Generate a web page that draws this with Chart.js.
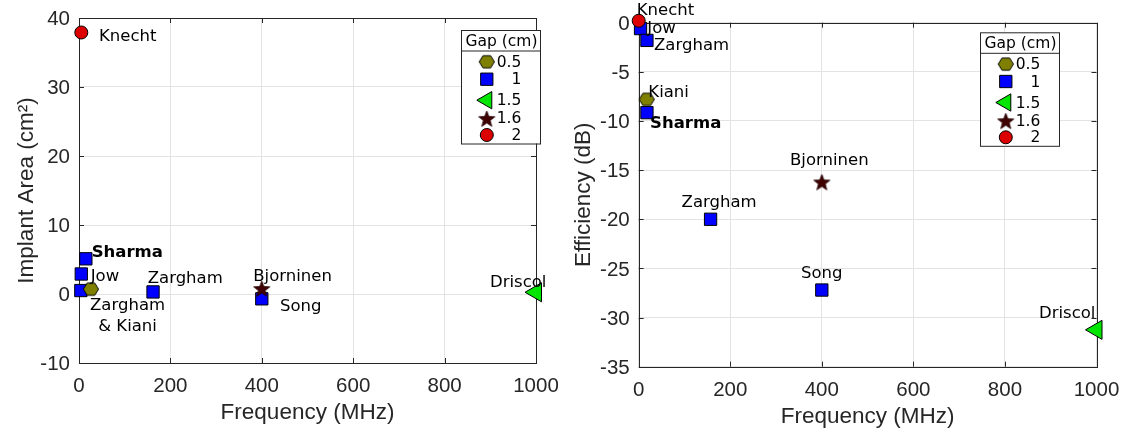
<!DOCTYPE html>
<html>
<head>
<meta charset="utf-8">
<script src="https://cdn.jsdelivr.net/npm/chart.js@4.4.1/dist/chart.umd.min.js"></script>
<style>
  html, body { margin: 0; padding: 0; background: #fff; overflow: hidden; }
  #wrap { position: relative; width: 1124px; height: 434px; }
  canvas { position: absolute; top: 0; }
  #area { left: 0; }
  #eff  { left: 560px; }
</style>
</head>
<body>
<div id="wrap">
  <canvas id="area" width="560" height="434"></canvas>
  <canvas id="eff" width="564" height="434"></canvas>
</div>
<script>
// ── DATA ──────────────────────────────────────────────
const gapLabels = ['0.5', '1', '1.5', '1.6', '2'];

// left panel: implant area (cm^2) vs frequency (MHz)
const areaNames = ['Knecht', 'Sharma', 'Jow', '', 'Zargham\n& Kiani', 'Zargham', 'Bjorninen', 'Song', 'Driscol'];
const areaFreq  = [5, 15, 5, 4, 26, 162, 400, 400, 1000];
const areaVals  = [37.9, 5.1, 2.9, 0.5, 0.7, 0.3, 0.8, -0.7, 0.25];
const areaGap   = ['2', '1', '1', '1', '0.5', '1', '1.6', '1', '1.5'];

// right panel: efficiency (dB) vs frequency (MHz)
const effNames = ['Knecht', 'Jow', 'Zargham', 'Kiani', 'Sharma', 'Zargham', 'Bjorninen', 'Song', 'Driscol'];
const effFreq  = [0, 4, 18, 17.5, 18, 157, 400, 400, 1000];
const effVals  = [0.2, -0.6, -1.8, -7.8, -9.15, -20, -16.2, -27.2, -31.25];
const effGap   = ['2', '1', '1', '0.5', '1', '1', '1.6', '1', '1.5'];

const freqTicks = [0, 200, 400, 600, 800, 1000];
const areaTicks = [-10, 0, 10, 20, 30, 40];
const effTicks  = [-35, -30, -25, -20, -15, -10, -5, 0];

// ── STYLE ─────────────────────────────────────────────
const AXIS_FONT  = 'Liberation Sans, Arial, Helvetica, sans-serif';
const LABEL_FONT = '"DejaVu Sans", Verdana, sans-serif';
const LBL_SIZE   = 16.5;   // point names
const LEG_SIZE   = 15.5;   // legend text
const INK        = '#262626';

function hexImg(fill, r) {
  const c = document.createElement('canvas');
  c.width = c.height = Math.ceil(2 * r + 2);
  const g = c.getContext('2d'), m = c.width / 2;
  g.beginPath();
  for (let k = 0; k < 6; k++) {
    const a = k * Math.PI / 3;
    g.lineTo(m + r * Math.cos(a), m + r * Math.sin(a) * 0.93);
  }
  g.closePath();
  g.fillStyle = fill; g.fill();
  g.strokeStyle = '#000'; g.lineWidth = 1; g.stroke();
  return c;
}

function starImg(fill, r) {
  const c = document.createElement('canvas');
  c.width = c.height = Math.ceil(2 * r + 2);
  const g = c.getContext('2d'), m = c.width / 2;
  g.beginPath();
  for (let k = 0; k < 10; k++) {
    const rr = k % 2 ? r * 0.42 : r;
    const a = -Math.PI / 2 + k * Math.PI / 5;
    g.lineTo(m + rr * Math.cos(a), m + 1 + rr * Math.sin(a));
  }
  g.closePath();
  g.fillStyle = fill; g.fill();
  g.strokeStyle = '#200000'; g.lineWidth = 0.8; g.stroke();
  return c;
}

const gapStyle = {
  '0.5': { pointStyle: hexImg('#808000', 7.6), radius: 8, img: true },
  '1':   { pointStyle: 'rect', radius: 8.7, color: '#0000ff' },
  '1.5': { pointStyle: 'triangle', radius: 11, legendRadius: 10, rotation: -90, color: '#00e600' },
  '1.6': { pointStyle: starImg('#400000', 8.5), radius: 8, img: true },
  '2':   { pointStyle: 'circle', radius: 6.5, color: '#dd0000' },
};
// bottom → top
const drawOrder = ['1', '0.5', '1.5', '1.6', '2'];

// label offsets from the marker: dx, dy (to baseline), align
const areaLabelPos = [[17.7, 8.4, 'left'], [5.8, -2.1, 'left'], [9.4, 6.7, 'left'], null,
  [36.7, 21, 'center'], [-5.3, -9.3, 'left'], [-8.5, -7.5, 'left'], [18.2, 12.2, 'left'], [-46, -5.3, 'left']];
const effLabelPos = [[-2, -6, 'left'], [6.8, 4.7, 'left'], [7.1, 9.6, 'left'], [1.6, -2.4, 'left'],
  [3.1, 15.1, 'left'], [-29, -12.3, 'left'], [-31.8, -16.6, 'left'], [-20.8, -11.7, 'left'], [-57.5, -11.6, 'left']];

// legend box geometry (relative to its top-left)
const LEG = { w: 79, h: 113.5, title: 11.5, sep: 20.5, rows: [31.8, 49.2, 70.2, 88.4, 105], mx: 25.8, tx: 60.3 };

// ── BUILDERS ──────────────────────────────────────────
function buildDatasets(freq, vals, gaps) {
  return drawOrder.map((g, k) => {
    const st = gapStyle[g];
    return {
      label: g,
      data: freq.map((f, i) => ({ x: f, y: vals[i], i })).filter(d => gaps[d.i] === g),
      order: drawOrder.length - k,
      pointStyle: st.pointStyle,
      pointRadius: st.radius,
      pointRotation: st.rotation || 0,
      pointBackgroundColor: st.color || '#000',
      pointBorderColor: '#000',
      pointBorderWidth: st.img ? 0 : 1,
      showLine: false,
      clip: false,
    };
  });
}

const framePlugin = {
  id: 'frame',
  beforeDatasetsDraw(chart) {
    const { ctx, chartArea: a, scales: { x, y } } = chart;
    ctx.save();
    ctx.strokeStyle = INK; ctx.lineWidth = 1;
    ctx.beginPath();
    x.ticks.forEach(t => {
      const px = Math.round(x.getPixelForValue(t.value)) + .5;
      ctx.moveTo(px, a.bottom); ctx.lineTo(px, a.bottom - 5);
      ctx.moveTo(px, a.top);    ctx.lineTo(px, a.top + 5);
    });
    y.ticks.forEach(t => {
      const py = Math.round(y.getPixelForValue(t.value)) + .5;
      ctx.moveTo(a.left, py);  ctx.lineTo(a.left + 5, py);
      ctx.moveTo(a.right, py); ctx.lineTo(a.right - 5, py);
    });
    ctx.stroke();
    ctx.strokeRect(Math.round(a.left) + .5, Math.round(a.top) + .5,
                   Math.round(a.right - a.left), Math.round(a.bottom - a.top));
    ctx.restore();
  }
};

function drawLegend(ctx, lx, ly) {
  ctx.save();
  ctx.fillStyle = '#fff';
  ctx.fillRect(lx, ly, LEG.w, LEG.h);
  ctx.strokeStyle = INK; ctx.lineWidth = 1;
  ctx.strokeRect(lx + .5, ly + .5, LEG.w, LEG.h);
  ctx.beginPath();
  ctx.moveTo(lx, ly + LEG.sep + .5); ctx.lineTo(lx + LEG.w, ly + LEG.sep + .5);
  ctx.stroke();
  ctx.font = `${LEG_SIZE}px ${LABEL_FONT}`;
  ctx.fillStyle = '#000'; ctx.textAlign = 'center'; ctx.textBaseline = 'middle';
  ctx.fillText('Gap (cm)', lx + LEG.w / 2 + 1, ly + LEG.title);
  gapLabels.forEach((g, k) => {
    const st = gapStyle[g], y = ly + LEG.rows[k];
    ctx.fillStyle = st.color || '#000'; ctx.strokeStyle = '#000'; ctx.lineWidth = 1;
    Chart.helpers.drawPoint(ctx, {
      pointStyle: st.pointStyle, radius: st.legendRadius || st.radius,
      rotation: st.rotation || 0, borderWidth: st.img ? 0 : 1
    }, lx + LEG.mx, y);
    ctx.fillStyle = '#000'; ctx.textAlign = 'right';
    ctx.fillText(g, lx + LEG.tx, y + 1);
  });
  ctx.restore();
}

// keep the plot box where it is: no extra room for overhanging tick labels
function noPad(s) { s.paddingLeft = s.paddingRight = s.paddingTop = s.paddingBottom = 0; }

function makePanel(id, p) {
  const labelPlugin = {
    id: 'names',
    afterDatasetsDraw(chart) {
      const ctx = chart.ctx;
      ctx.save();
      ctx.fillStyle = '#000'; ctx.textBaseline = 'alphabetic';
      chart.data.datasets.forEach((ds, di) => {
        chart.getDatasetMeta(di).data.forEach((pt, j) => {
          const i = ds.data[j].i, pos = p.labelPos[i], name = p.names[i];
          if (!pos || !name) return;
          ctx.font = `${name === 'Sharma' ? 'bold ' : ''}${LBL_SIZE}px ${LABEL_FONT}`;
          ctx.textAlign = pos[2];
          name.split('\n').forEach((ln, r) => ctx.fillText(ln, pt.x + pos[0], pt.y + pos[1] + r * 20.5));
        });
      });
      ctx.restore();
      drawLegend(ctx, p.legend[0], p.legend[1]);
    }
  };

  const tickFont = { family: AXIS_FONT, size: 20.5 };
  const titleFont = { family: AXIS_FONT, size: 22.5 };

  return new Chart(document.getElementById(id), {
    type: 'scatter',
    data: { datasets: buildDatasets(p.freq, p.vals, p.gaps) },
    options: {
      responsive: false, animation: false, events: [], devicePixelRatio: 1,
      layout: { padding: { left: 0, top: p.area.top, right: p.area.right, bottom: 0 } },
      plugins: { legend: { display: false }, tooltip: { enabled: false } },
      scales: {
        x: {
          type: 'linear', min: freqTicks[0], max: freqTicks[freqTicks.length - 1],
          afterBuildTicks: s => { s.ticks = freqTicks.map(v => ({ value: v })); },
          afterFit: s => { s.height = p.area.xh; noPad(s); },
          grid: { color: '#e3e3e3', drawTicks: false },
          border: { display: false },
          ticks: { font: tickFont, color: INK, padding: 11, callback: v => String(v) },
          title: { display: true, text: 'Frequency (MHz)', font: titleFont, color: INK, padding: { top: 0, bottom: p.area.xtPad } },
        },
        y: {
          type: 'linear', min: p.yTicks[0], max: p.yTicks[p.yTicks.length - 1],
          afterBuildTicks: s => { s.ticks = p.yTicks.map(v => ({ value: v })); },
          afterFit: s => { s.width = p.area.yw; noPad(s); },
          grid: { color: '#e3e3e3', drawTicks: false },
          border: { display: false },
          ticks: { font: tickFont, color: INK, padding: 9, labelOffset: 1.5, callback: v => String(v) },
          title: { display: true, text: p.yTitle, font: titleFont, color: INK, padding: { top: p.area.ytPad, bottom: 0 } },
        },
      },
    },
    plugins: [framePlugin, labelPlugin],
  });
}

makePanel('area', {
  names: areaNames, freq: areaFreq, vals: areaVals, gaps: areaGap, yTicks: areaTicks,
  yTitle: 'Implant Area (cm²)', labelPos: areaLabelPos, legend: [461, 30],
  area: { top: 18, right: 24, xh: 71, yw: 79, xtPad: 8, ytPad: 13 },
});

makePanel('eff', {
  names: effNames, freq: effFreq, vals: effVals, gaps: effGap, yTicks: effTicks,
  yTitle: 'Efficiency (dB)', labelPos: effLabelPos, legend: [420, 32.3],
  area: { top: 22.7, right: 27.5, xh: 67.3, yw: 78.7, xtPad: 4, ytPad: 9.8 },
});
</script>
</body>
</html>
